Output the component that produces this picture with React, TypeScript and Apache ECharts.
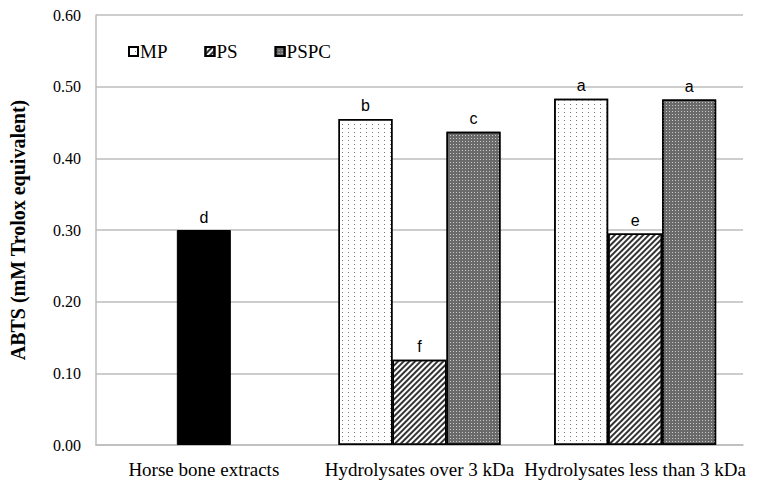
import React, { useEffect, useRef } from "react";
import * as echarts from "echarts";

const categories = ["Horse bone extracts", "Hydrolysates over 3 kDa", "Hydrolysates less than 3 kDa"];
const extractValues = [0.3, "-", "-"];
const extractLetters = ["d", "", ""];
const mpValues = ["-", 0.455, 0.483];
const mpLetters = ["", "b", "a"];
const psValues = ["-", 0.119, 0.295];
const psLetters = ["", "f", "e"];
const pspcValues = ["-", 0.437, 0.482];
const pspcLetters = ["", "c", "a"];
const yTicks = [0, 0.1, 0.2, 0.3, 0.4, 0.5, 0.6];

const serif = "Liberation Serif";
const sans = "Liberation Sans";

export default function App() {
  const ref = useRef<HTMLDivElement>(null);
  useEffect(() => {
    document.body.style.margin = "0";
    const chart = echarts.init(ref.current!, null, { renderer: "svg" });
    const letterLabel = (letters: string[]) => ({
      show: true,
      position: "top",
      distance: 5,
      fontFamily: sans,
      fontSize: 16,
      color: "#000",
      formatter: (p: any) => letters[p.dataIndex],
    });
    chart.setOption({
      animation: false,
      backgroundColor: "#fff",
      grid: { left: 95, right: 23, top: 15, bottom: 45 },
      legend: {
        data: ["MP", "PS", "PSPC"],
        left: 123,
        top: 37,
        icon: "rect",
        itemWidth: 9,
        itemHeight: 9,
        itemGap: 37,
        textStyle: { fontFamily: serif, fontSize: 19, color: "#000", padding: [0, 0, 0, -3] },
      },
      xAxis: [
        {
          type: "category",
          data: categories,
          axisLine: { show: true, lineStyle: { color: "#bcbcbc", width: 1.5 } },
          axisTick: { show: false },
          axisLabel: { fontFamily: serif, fontSize: 19, color: "#000", margin: 15, interval: 0 },
        },
        {
          type: "category",
          data: categories,
          show: false,
        },
      ],
      yAxis: {
        type: "value",
        min: 0,
        max: 0.6,
        interval: 0.1,
        name: "ABTS (mM Trolox equivalent)",
        nameLocation: "middle",
        nameGap: 68,
        nameTextStyle: { fontFamily: serif, fontSize: 20, fontWeight: "bold", color: "#000" },
        axisLine: { show: true, lineStyle: { color: "#bcbcbc", width: 1.5 } },
        axisTick: { show: false },
        splitLine: { lineStyle: { color: "#bcbcbc", width: 1.5 } },
        axisLabel: {
          fontFamily: serif,
          fontSize: 16,
          color: "#000",
          margin: 15,
          formatter: (v: number) => (yTicks.includes(Math.round(v * 10) / 10) ? v.toFixed(2) : ""),
        },
      },
      series: [
        {
          name: "Extract",
          type: "bar",
          xAxisIndex: 1,
          data: extractValues,
          barWidth: 54,
          itemStyle: { color: "#000", borderColor: "#000", borderWidth: 1 },
          label: letterLabel(extractLetters),
        },
        {
          name: "MP",
          type: "bar",
          data: mpValues,
          barWidth: 54,
          barGap: "0%",
          itemStyle: {
            color: "#fff",
            borderColor: "#000",
            borderWidth: 1.5,
            decal: {
              symbol: "rect",
              symbolSize: 1,
              color: "#777",
              backgroundColor: "#fff",
              dashArrayX: [1, 5],
              dashArrayY: [1, 3],
            },
          },
          label: letterLabel(mpLetters),
        },
        {
          name: "PS",
          type: "bar",
          data: psValues,
          barWidth: 54,
          barGap: "0%",
          itemStyle: {
            color: "#fff",
            borderColor: "#000",
            borderWidth: 1.5,
            decal: {
              symbol: "rect",
              symbolSize: 1,
              color: "#333",
              backgroundColor: "#fff",
              dashArrayX: [1, 0],
              dashArrayY: [1.2, 1.8],
              rotation: -Math.PI / 4,
            },
          },
          label: letterLabel(psLetters),
        },
        {
          name: "PSPC",
          type: "bar",
          data: pspcValues,
          barWidth: 54,
          barGap: "0%",
          itemStyle: {
            color: "#6a6a6a",
            borderColor: "#000",
            borderWidth: 1.5,
            decal: {
              symbol: "rect",
              symbolSize: 1,
              color: "#c8c8c8",
              backgroundColor: "#6a6a6a",
              dashArrayX: [1, 2],
              dashArrayY: [1, 2],
            },
          },
          label: letterLabel(pspcLetters),
        },
      ],
    });
    return () => chart.dispose();
  }, []);
  return <div ref={ref} style={{ width: 766, height: 490 }} />;
}
